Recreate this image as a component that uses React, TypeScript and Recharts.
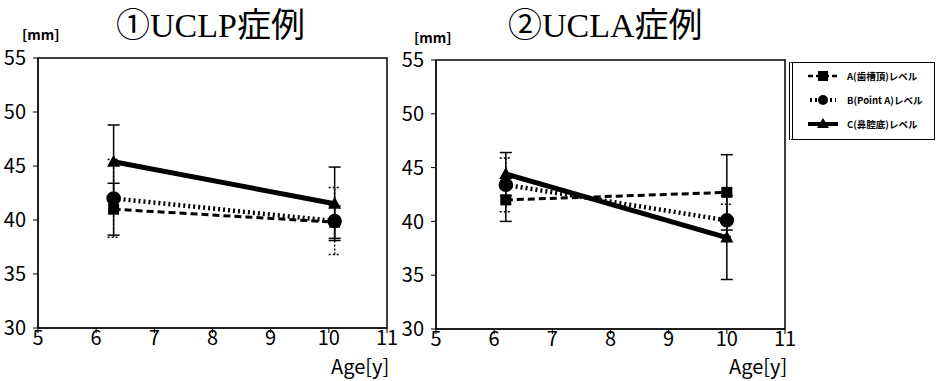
import React from 'react';
import { LineChart, Line, XAxis, YAxis, ErrorBar, ReferenceArea } from 'recharts';

// 年齢 (x)
const agesUCLP = [6.3, 10.1];
const agesUCLA = [6.2, 10.0];

// ①UCLP症例
const uclpA = [41.0, 39.8];
const uclpB = [42.0, 39.9];
const uclpC = [45.4, 41.5];
const uclpErrA = [2.4, 1.5];
const uclpErrB = [3.6, 3.1];
const uclpErrC = [3.4, 3.4];

// ②UCLA症例
const uclaA = [42.0, 42.7];
const uclaB = [43.4, 40.1];
const uclaC = [44.4, 38.5];
const uclaErrA = [2.0, 3.5];
const uclaErrB = [2.5, 1.5];
const uclaErrC = [2.0, 3.9];

const xTicks = [5, 6, 7, 8, 9, 10, 11];
const yTicks = [30, 35, 40, 45, 50, 55];
const legendLabels = ['A(歯槽頂)レベル', 'B(Point A)レベル', 'C(鼻腔底)レベル'];

const FONT = '"Noto Sans CJK JP", "Liberation Sans", sans-serif';
const SERIF = '"Liberation Serif", "Noto Sans CJK JP", serif';

const build = (ages: number[], a: number[], b: number[], c: number[], ea: number[], eb: number[], ec: number[]) =>
  ages.map((age, i) => ({ age, A: a[i], B: b[i], C: c[i], eA: ea[i], eB: eb[i], eC: ec[i] }));

const SquareDot = (p: any) => (
  <rect key={`sq-${p.index}`} x={p.cx - 5.5} y={p.cy - 5.5} width={11} height={11} fill="#000" />
);
const TriDot = (p: any) => (
  <polygon key={`tr-${p.index}`} points={`${p.cx},${p.cy - 7} ${p.cx - 6.5},${p.cy + 5} ${p.cx + 6.5},${p.cy + 5}`} fill="#000" />
);

const tickStyle = { fontFamily: FONT, fontSize: 20, fill: '#000' };

function Panel({ data, yWidth, marginRight, top, bottom }: any) {
  return (
    <LineChart width={400} height={381} data={data} margin={{ top, right: marginRight, left: 0, bottom }}>
      <XAxis
        dataKey="age"
        type="number"
        domain={[5, 11]}
        ticks={xTicks}
        interval={0}
        height={30}
        stroke="#000"
        tickSize={5}
        tick={tickStyle}
        tickMargin={-2}
        allowDataOverflow
      />
      <YAxis
        type="number"
        domain={[30, 55]}
        ticks={yTicks}
        interval={0}
        width={yWidth}
        stroke="#000"
        tickSize={5}
        tickMargin={7}
        tick={tickStyle}
      />
      <ReferenceArea x1={5} x2={11} y1={30} y2={55} fill="none" stroke="#000" strokeWidth={1.5} fillOpacity={0} />
      {/* B を先に描き、A・C を上に重ねる */}
      <Line dataKey="B" stroke="#000" strokeWidth={4.5} strokeDasharray="2 3" dot={{ r: 5, fill: '#000', stroke: '#000', strokeDasharray: '' }} isAnimationActive={false}>
        <ErrorBar dataKey="eB" width={6} stroke="#000" strokeWidth={1.5} strokeDasharray="2 2" />
      </Line>
      <Line dataKey="A" stroke="#000" strokeWidth={3} strokeDasharray="7 4" dot={SquareDot} isAnimationActive={false}>
        <ErrorBar dataKey="eA" width={6} stroke="#000" strokeWidth={1.5} />
      </Line>
      <Line dataKey="C" stroke="#000" strokeWidth={5} dot={TriDot} isAnimationActive={false}>
        <ErrorBar dataKey="eC" width={6} stroke="#000" strokeWidth={1.5} />
      </Line>
    </LineChart>
  );
}

function LegendBox() {
  const sample = (i: number) => {
    if (i === 0)
      return (
        <svg width={32} height={12}>
          <line x1={1} y1={6} x2={31} y2={6} stroke="#000" strokeWidth={2.5} strokeDasharray="5 3" />
          <rect x={11} y={1} width={10} height={10} fill="#000" />
        </svg>
      );
    if (i === 1)
      return (
        <svg width={32} height={12}>
          <line x1={3} y1={6} x2={29} y2={6} stroke="#000" strokeWidth={4} strokeDasharray="2 3" />
          <circle cx={16} cy={6} r={5} fill="#000" />
        </svg>
      );
    return (
      <svg width={32} height={12}>
        <line x1={1} y1={6} x2={31} y2={6} stroke="#000" strokeWidth={4} />
        <polygon points="16,0 10,10 22,10" fill="#000" />
      </svg>
    );
  };
  return (
    <div
      style={{
        position: 'absolute',
        left: 789,
        top: 62,
        width: 146,
        height: 78,
        borderTop: '1.5px solid #000',
        borderBottom: '1.5px solid #000',
        borderRight: '1.5px solid #000',
        borderLeft: '4px double #000',
        boxSizing: 'border-box',
        fontFamily: FONT,
        fontSize: 9.5,
        fontWeight: 700,
      }}
    >
      {legendLabels.map((t, i) => (
        <div key={t} style={{ position: 'absolute', left: 14, top: 6 + i * 24, display: 'flex', alignItems: 'center', height: 14 }}>
          {sample(i)}
          <span style={{ marginLeft: 8, whiteSpace: 'nowrap' }}>{t}</span>
        </div>
      ))}
    </div>
  );
}

export default function App() {
  const d1 = build(agesUCLP, uclpA, uclpB, uclpC, uclpErrA, uclpErrB, uclpErrC);
  const d2 = build(agesUCLA, uclaA, uclaB, uclaC, uclaErrA, uclaErrB, uclaErrC);
  const label = { position: 'absolute' as const, fontFamily: FONT, color: '#000', whiteSpace: 'nowrap' as const };
  return (
    <div style={{ position: 'absolute', left: 0, top: 0, width: 937, height: 381, background: '#fff', overflow: 'hidden' }}>
      <div style={{ position: 'absolute', left: 0, top: 0 }}>
        <Panel data={d1} yWidth={38} marginRight={13} top={58} bottom={23} />
      </div>
      <div style={{ position: 'absolute', left: 400, top: 0 }}>
        <Panel data={d2} yWidth={36} marginRight={15} top={60} bottom={22} />
      </div>
      <div style={{ ...label, left: 116, top: 6, fontFamily: SERIF, fontSize: 34, fontWeight: 400, lineHeight: '40px' }}>①UCLP症例</div>
      <div style={{ ...label, left: 508, top: 6, fontFamily: SERIF, fontSize: 34, fontWeight: 400, lineHeight: '40px' }}>②UCLA症例</div>
      <div style={{ ...label, left: 22, top: 27, fontSize: 14, fontWeight: 700, lineHeight: '15px' }}>[mm]</div>
      <div style={{ ...label, left: 414, top: 30, fontSize: 14, fontWeight: 700, lineHeight: '15px' }}>[mm]</div>
      <div style={{ ...label, left: 331, top: 354, fontSize: 20, lineHeight: '24px' }}>Age[y]</div>
      <div style={{ ...label, left: 729, top: 354, fontSize: 20, lineHeight: '24px' }}>Age[y]</div>
      <LegendBox />
    </div>
  );
}
